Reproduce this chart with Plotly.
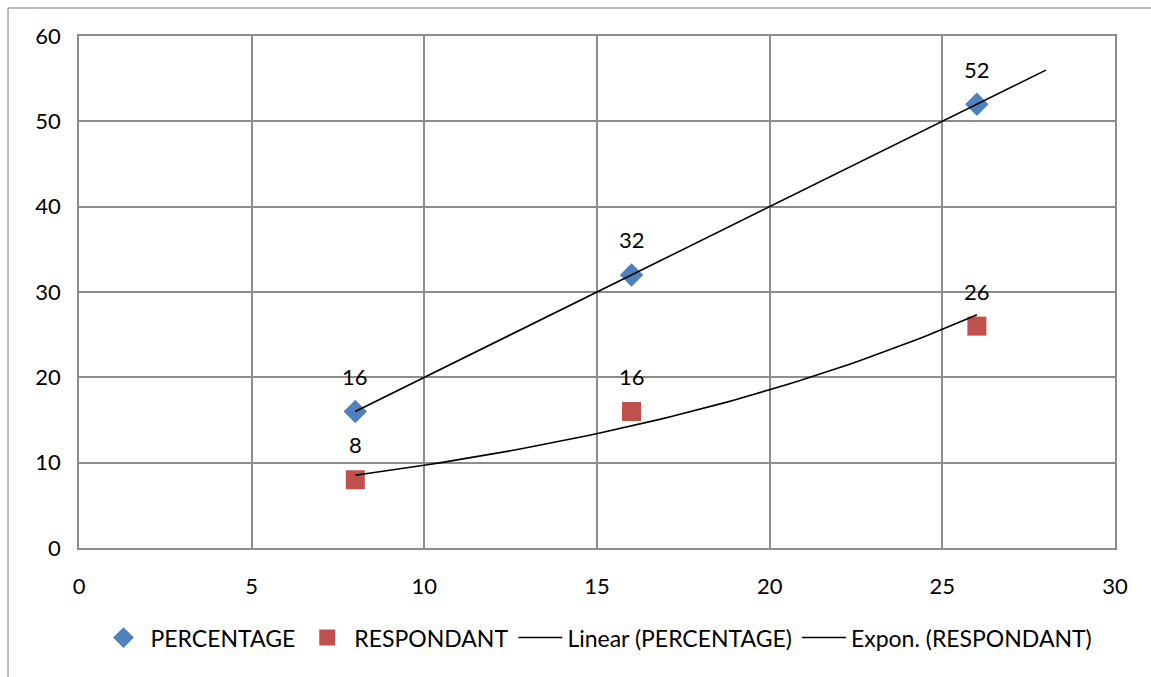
import numpy as np
import plotly.graph_objects as go

# Chart values
x_values = [8, 16, 26]
percentage = [16, 32, 52]
respondant = [8, 16, 26]
x_ticks = [0, 5, 10, 15, 20, 25, 30]
y_ticks = [0, 10, 20, 30, 40, 50, 60]

FONT = "Lato, 'Open Sans', sans-serif"
GRID = "#8c8c8c"
BLUE = "#4F81BD"
RED = "#C0504D"

xv = np.array(x_values, dtype=float)

# Linear trend for PERCENTAGE, extended forward to x = 28
slope, intercept = np.polyfit(xv, np.array(percentage, dtype=float), 1)
lin_x = np.array([xv.min(), 28.0])
lin_y = slope * lin_x + intercept

# Exponential trend for RESPONDANT (least squares on log values)
b, a = np.polyfit(xv, np.log(np.array(respondant, dtype=float)), 1)
exp_x = np.linspace(xv.min(), xv.max(), 60)
exp_y = np.exp(a + b * exp_x)

fig = go.Figure()
fig.add_trace(go.Scatter(
    x=x_values, y=percentage, mode="markers", name="PERCENTAGE",
    marker=dict(symbol="diamond", size=18, color=BLUE),
))
fig.add_trace(go.Scatter(
    x=x_values, y=respondant, mode="markers", name="RESPONDANT",
    marker=dict(symbol="square", size=19, color=RED),
))
fig.add_trace(go.Scatter(
    x=lin_x, y=lin_y, mode="lines", name="Linear (PERCENTAGE)",
    line=dict(color="black", width=1.6),
))
fig.add_trace(go.Scatter(
    x=exp_x, y=exp_y, mode="lines", name="Expon. (RESPONDANT)",
    line=dict(color="black", width=1.6),
))

# Data labels above each point
for series in (percentage, respondant):
    for xi, yi in zip(x_values, series):
        fig.add_annotation(
            x=xi, y=yi, text=str(yi), showarrow=False, yshift=35,
            font=dict(family=FONT, size=22, color="black"),
        )

# Outer chart border (left and top edges visible)
fig.add_shape(type="line", xref="paper", yref="paper",
              x0=-0.0685, x1=-0.0685, y0=-0.26, y1=1.0547,
              line=dict(color="#a6a6a6", width=1.5))
fig.add_shape(type="line", xref="paper", yref="paper",
              x0=-0.0685, x1=1.05, y0=1.0547, y1=1.0547,
              line=dict(color="#a6a6a6", width=1.5))

fig.update_xaxes(
    range=[0, 30], tickvals=x_ticks, showgrid=True, gridcolor=GRID, gridwidth=1.5,
    showline=True, linecolor=GRID, linewidth=1.5, mirror=True, zeroline=False,
    ticks="", ticklabelstandoff=18,
    tickfont=dict(family=FONT, size=22, color="black"),
)
fig.update_yaxes(
    range=[0, 60], tickvals=y_ticks, showgrid=True, gridcolor=GRID, gridwidth=1.5,
    showline=True, linecolor=GRID, linewidth=1.5, mirror=True, zeroline=False,
    ticks="", ticklabelstandoff=12,
    tickfont=dict(family=FONT, size=22, color="black"),
)

fig.update_layout(
    width=1151, height=677,
    margin=dict(l=79, r=36, t=36, b=129),
    plot_bgcolor="white", paper_bgcolor="white",
    showlegend=True,
    legend=dict(
        orientation="h", x=0.5, xanchor="center", y=-0.175, yanchor="middle",
        font=dict(family=FONT, size=23, color="black"),
        itemwidth=44, tracegroupgap=0,
    ),
)

fig.write_html("out.html")
